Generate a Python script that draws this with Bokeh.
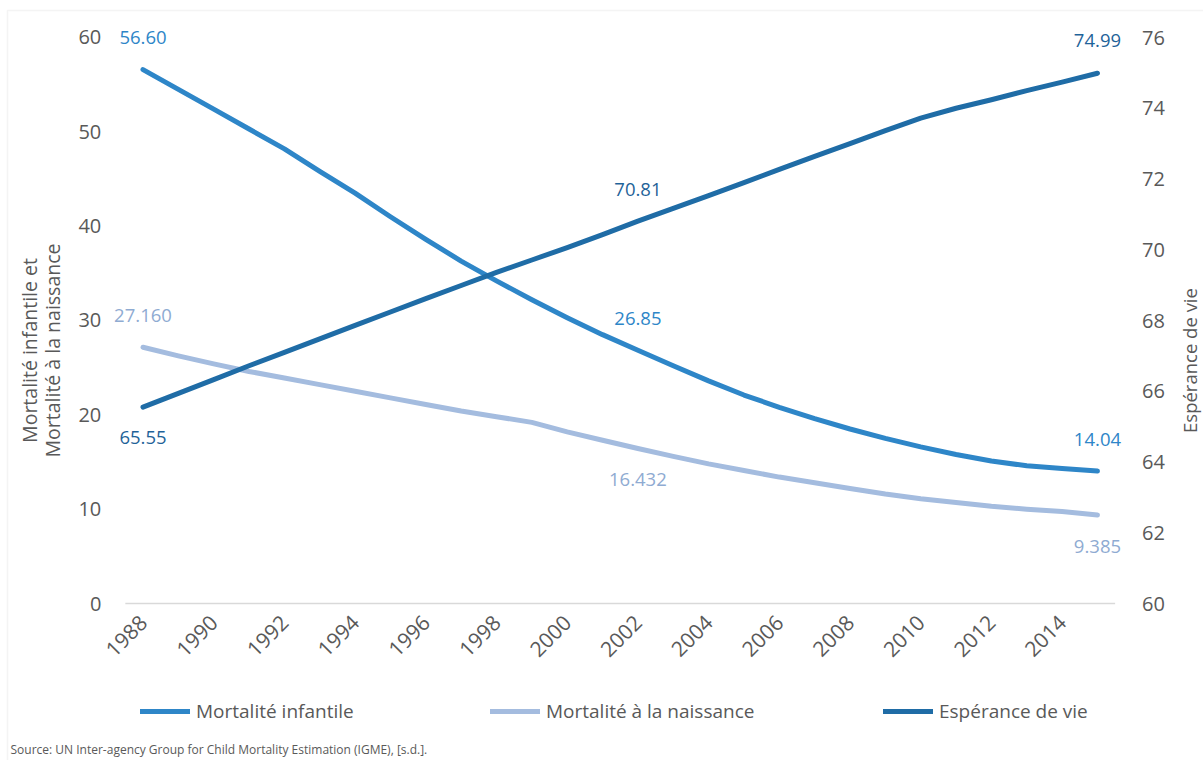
import math

from bokeh.core.properties import value
from bokeh.embed import file_html
from bokeh.models import (BoxAnnotation, ColumnDataSource, FixedTicker, Label,
                          Legend, LegendItem, LinearAxis, Range1d)
from bokeh.plotting import figure
from bokeh.resources import INLINE

# ---- data -----------------------------------------------------------------
years = list(range(1988, 2016))

mortalite_infantile = [
    56.60, 54.5, 52.4, 50.3, 48.2, 45.8, 43.5, 41.0, 38.6, 36.3,
    34.2, 32.2, 30.3, 28.5, 26.85, 25.2, 23.6, 22.1, 20.8, 19.6,
    18.5, 17.5, 16.6, 15.8, 15.1, 14.6, 14.3, 14.04,
]
mortalite_naissance = [
    27.160, 26.25, 25.4, 24.6, 23.9, 23.2, 22.5, 21.8, 21.1, 20.4,
    19.8, 19.2, 18.2, 17.3, 16.432, 15.6, 14.8, 14.1, 13.4, 12.8,
    12.2, 11.6, 11.1, 10.7, 10.3, 10.0, 9.75, 9.385,
]
esperance_vie = [
    65.55, 65.94, 66.33, 66.72, 67.10, 67.48, 67.86, 68.24, 68.62, 68.99,
    69.36, 69.71, 70.06, 70.43, 70.81, 71.17, 71.53, 71.90, 72.27, 72.64,
    73.00, 73.37, 73.72, 74.00, 74.24, 74.50, 74.74, 74.99,
]

year_ticks = list(range(1988, 2015, 2))
left_ticks = [0, 10, 20, 30, 40, 50, 60]
right_ticks = [60, 62, 64, 66, 68, 70, 72, 74, 76]
labelled_years = [1988, 2002, 2015]

series_names = ["Mortalité infantile", "Mortalité à la naissance", "Espérance de vie"]
left_title = ["Mortalité infantile et", "Mortalité à la naissance"]
right_title = "Espérance de vie"
source_text = "Source: UN Inter-agency Group for Child Mortality Estimation (IGME), [s.d.]."

# ---- style ----------------------------------------------------------------
FONT = "Open Sans"
GREY = "#595959"
C_INF, C_NAI, C_VIE = "#2E86C8", "#A4BCDF", "#1F6CA6"
T_INF, T_NAI, T_VIE = "#2E86C8", "#8FABD2", "#1F6399"

W, H = 1203, 760
# the plotting frame fills the whole canvas; axes sit at fixed data positions
band_lo, band_hi = years[0] - 0.5, years[-1] + 0.5

p = figure(
    width=W, height=H, output_backend="svg", toolbar_location=None,
    x_range=Range1d(1983.969, 2018.0), y_range=Range1d(-16.643, 63.922),
    min_border=0, min_border_left=0, min_border_right=0,
    min_border_top=0, min_border_bottom=0,
    background_fill_color="white", border_fill_color="white",
)
p.outline_line_color = None
p.xgrid.visible = False
p.ygrid.visible = False
p.extra_y_ranges = {"vie": Range1d(55.562, 77.046)}


def style_axis(ax, standoff, size):
    ax.axis_line_color = None
    ax.major_tick_line_color = None
    ax.minor_tick_line_color = None
    ax.major_label_text_font = FONT
    ax.major_label_text_color = GREY
    ax.major_label_text_font_size = size
    ax.major_label_standoff = standoff


xa = p.xaxis[0]
xa.ticker = FixedTicker(ticks=year_ticks)
xa.major_label_orientation = math.pi / 4
xa.fixed_location = left_ticks[0]
style_axis(xa, 9, "21px")

ya = p.yaxis[0]
ya.ticker = FixedTicker(ticks=left_ticks)
ya.fixed_location = band_lo
style_axis(ya, 18, "20px")

ra = LinearAxis(y_range_name="vie", ticker=FixedTicker(ticks=right_ticks))
ra.fixed_location = band_hi
style_axis(ra, 21, "20px")
p.add_layout(ra, "right")

# baseline at zero across the category band
p.segment(x0=[band_lo], y0=[left_ticks[0]], x1=[band_hi], y1=[left_ticks[0]],
          line_color="#D9D9D9", line_width=1.3)

# ---- series ---------------------------------------------------------------
line_kw = dict(line_width=5, line_cap="round", line_join="round")
r_inf = p.line(years, mortalite_infantile, line_color=C_INF, **line_kw)
r_nai = p.line(years, mortalite_naissance, line_color=C_NAI, **line_kw)
r_vie = p.line(years, esperance_vie, line_color=C_VIE, y_range_name="vie", **line_kw)

# ---- data labels ----------------------------------------------------------
idx = [years.index(y) for y in labelled_years]


def add_labels(vals, fmt, offsets, color, range_name="default"):
    src = ColumnDataSource(dict(
        x=[years[i] for i in idx],
        y=[vals[i] for i in idx],
        t=[fmt.format(vals[i]) for i in idx],
        dy=offsets,
    ))
    p.text(x="x", y="y", text="t", y_offset="dy", source=src, y_range_name=range_name,
           text_align="center", text_baseline="middle",
           text_font=value(FONT), text_font_size="18.5px", text_color=color)


add_labels(mortalite_infantile, "{:.2f}", [-32, -32, -32], T_INF)
add_labels(mortalite_naissance, "{:.3f}", [-32, 31, 32], T_NAI)
add_labels(esperance_vie, "{:.2f}", [30, -32, -33], T_VIE, "vie")

# ---- legend (screen units measured from the canvas bottom-left) -------------
for name, rend, gx in zip(series_names, [r_inf, r_nai, r_vie], [140, 490, 883]):
    lg = Legend(items=[LegendItem(label=name, renderers=[rend])],
                location=(gx, H - 724), orientation="horizontal",
                glyph_width=50, glyph_height=24, label_height=24, label_standoff=6,
                padding=0, margin=0, border_line_color=None, background_fill_alpha=0,
                label_text_font=FONT, label_text_font_size="19px", label_text_color=GREY)
    p.add_layout(lg, "center")

# ---- axis titles and source --------------------------------------------------
for txt, cx in zip(left_title, [29, 52]):
    p.add_layout(Label(x=cx, y=H - 350, x_units="screen", y_units="screen", text=txt,
                       angle=math.pi / 2, text_align="center", text_baseline="middle",
                       text_font=FONT, text_font_size="19.5px", text_color=GREY))
p.add_layout(Label(x=1189, y=H - 360, x_units="screen", y_units="screen", text=right_title,
                   angle=math.pi / 2, text_align="center", text_baseline="middle",
                   text_font=FONT, text_font_size="18.5px", text_color=GREY))
p.add_layout(Label(x=10, y=H - 749, x_units="screen", y_units="screen", text=source_text,
                   text_align="left", text_baseline="middle",
                   text_font=FONT, text_font_size="12px", text_color=GREY))

# chart-area border
p.add_layout(BoxAnnotation(left=7, right=W + 50, top=H - 10, bottom=-50,
                           left_units="screen", right_units="screen",
                           top_units="screen", bottom_units="screen",
                           fill_alpha=0, line_color="#D9D9D9", line_width=1.5))

open("out.html", "w").write(file_html(p, INLINE))
